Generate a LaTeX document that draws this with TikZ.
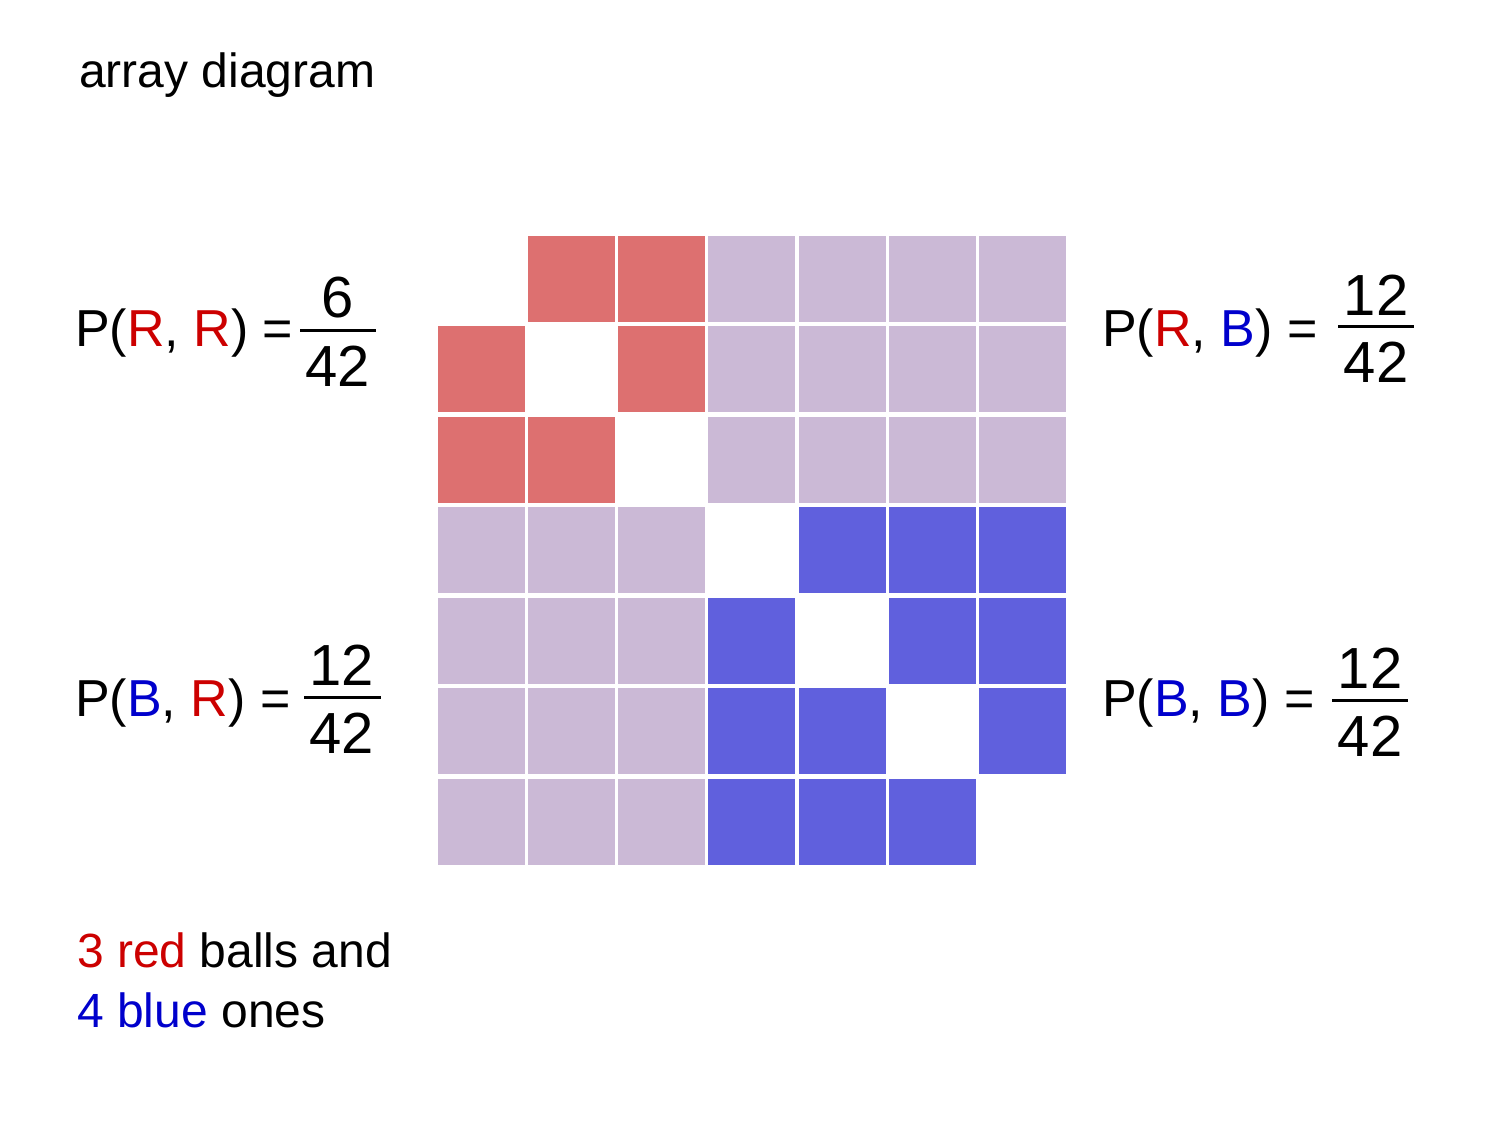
\documentclass[tikz,border=0pt]{standalone}
\usepackage{fontspec}
\setmainfont{Liberation Sans}
\definecolor{cred}{HTML}{DD7070}
\definecolor{cblue}{HTML}{6060DD}
\definecolor{clav}{HTML}{CBB9D6}
\definecolor{tred}{HTML}{CC0000}
\definecolor{tblue}{HTML}{0000CC}
\tikzset{
  lbl/.style={anchor=west,inner sep=0pt,font=\fontsize{52}{60}\selectfont},
  dig/.style={inner sep=0pt,font=\fontsize{58}{64}\selectfont},
  note/.style={anchor=west,inner sep=0pt,font=\fontsize{48}{56}\selectfont},
  fl/.style={line width=3pt}
}
\begin{document}
\begin{tikzpicture}[x=1pt,y=-1pt]
\useasboundingbox (0,0) rectangle (1500,1125);
\node[note] (title) at (79,75) {array diagram};
\foreach \i in {0,...,6}{
  \foreach \j in {0,...,6}{
    \pgfmathtruncatemacro{\x}{438+90.3*\j}
    \pgfmathtruncatemacro{\y}{236+90.5*\i}
    \ifnum\i=\j\relax\else
      \pgfmathtruncatemacro{\r}{(\i<3)&&(\j<3)}
      \pgfmathtruncatemacro{\b}{(\i>2)&&(\j>2)}
      \ifnum\r=1 \def\c{cred}\else\ifnum\b=1 \def\c{cblue}\else\def\c{clav}\fi\fi
      \fill[\c] (\x,\y) rectangle ++(87,86);
    \fi
  }
}
% P(R,R)
\node[lbl] (rr) at (75,333) {P(\textcolor{tred}{R}, \textcolor{tred}{R}) =};
\node[dig] (rrn) at (338,298) {6};
\node[dig] (rrd) at (338,366) {42};
\draw[fl] (300,330) -- (376,330);
% P(R,B)
\node[lbl] (rb) at (1102,333) {P(\textcolor{tred}{R}, \textcolor{tblue}{B}) =};
\node[dig] (rbn) at (1376,295) {12};
\node[dig] (rbd) at (1376,362) {42};
\draw[fl] (1338,326) -- (1414,326);
% P(B,R)
\node[lbl] (br) at (75,703) {P(\textcolor{tblue}{B}, \textcolor{tred}{R}) =};
\node[dig] (brn) at (342,665) {12};
\node[dig] (brd) at (342,733) {42};
\draw[fl] (304,697) -- (381,697);
% P(B,B)
\node[lbl] (bb) at (1102,703) {P(\textcolor{tblue}{B}, \textcolor{tblue}{B}) =};
\node[dig] (bbn) at (1370,668) {12};
\node[dig] (bbd) at (1370,736) {42};
\draw[fl] (1332,700) -- (1408,700);
\node[note] (n1) at (77,950) {\textcolor{tred}{3 red} balls and};
\node[note] (n2) at (77,1010) {\textcolor{tblue}{4 blue} ones};
\end{tikzpicture}
\end{document}
